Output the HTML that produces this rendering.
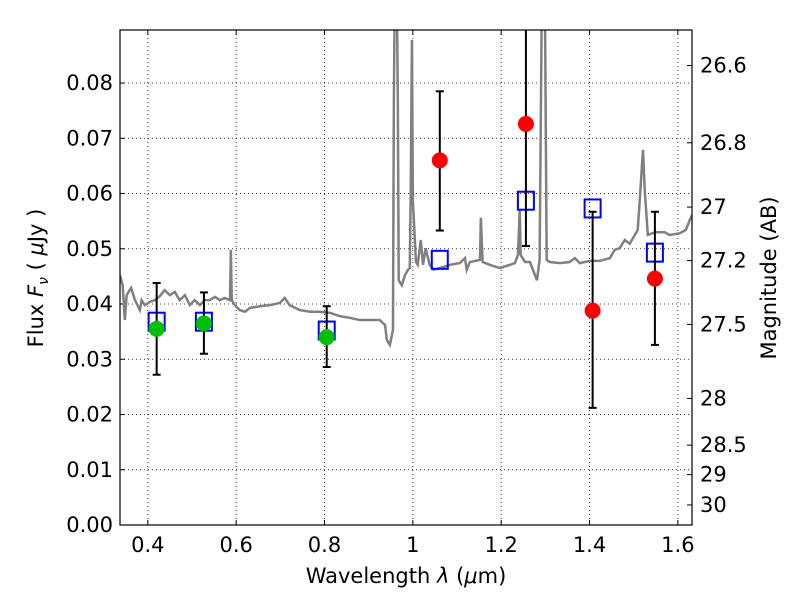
<!DOCTYPE html>
<html><head><meta charset="utf-8"><style>
body{margin:0;background:#fff;}
svg text{font-family:"DejaVu Sans","Liberation Sans",sans-serif;}
</style></head><body>
<svg id="chart" width="800" height="600" xmlns="http://www.w3.org/2000/svg"></svg>
<script>
const specWave=[0.337,0.343,0.348,0.352,0.362,0.371,0.382,0.386,0.393,0.405,0.416,0.427,0.438,0.450,0.461,0.472,0.484,0.495,0.506,0.518,0.529,0.540,0.552,0.563,0.574,0.586,0.588,0.590,0.597,0.608,0.620,0.631,0.654,0.676,0.699,0.710,0.721,0.744,0.767,0.789,0.812,0.835,0.857,0.880,0.903,0.925,0.937,0.941,0.948,0.955,0.957,0.959,0.964,0.966,0.968,0.975,0.982,0.989,0.993,0.995,0.998,1.000,1.007,1.011,1.018,1.023,1.029,1.038,1.047,1.061,1.084,1.106,1.118,1.122,1.129,1.152,1.154,1.158,1.174,1.197,1.220,1.231,1.238,1.242,1.244,1.254,1.265,1.281,1.287,1.292,1.299,1.303,1.310,1.333,1.355,1.367,1.378,1.401,1.423,1.446,1.457,1.468,1.480,1.491,1.509,1.513,1.521,1.525,1.532,1.548,1.570,1.581,1.604,1.618,1.627,1.632];
const specFlux=[0.0452,0.0434,0.0371,0.0416,0.0429,0.0407,0.0389,0.0407,0.0398,0.0404,0.0407,0.0414,0.0425,0.0416,0.0422,0.0407,0.0416,0.0398,0.0407,0.0398,0.0407,0.0407,0.0413,0.0407,0.0411,0.0407,0.0498,0.0407,0.0398,0.0389,0.0386,0.0393,0.0396,0.0398,0.0402,0.0411,0.0398,0.0389,0.0386,0.0386,0.0384,0.0378,0.0375,0.0371,0.0371,0.0371,0.0362,0.0335,0.0326,0.0353,0.0769,0.095,0.095,0.0769,0.0443,0.0434,0.0452,0.0462,0.0465,0.0588,0.0878,0.0588,0.0476,0.0471,0.0516,0.0471,0.0501,0.0471,0.0462,0.0465,0.0471,0.0474,0.0483,0.0462,0.0476,0.0480,0.0556,0.0476,0.0471,0.0465,0.0471,0.0474,0.0489,0.0570,0.0489,0.0476,0.0476,0.0443,0.0480,0.095,0.095,0.0480,0.0476,0.0474,0.0476,0.0483,0.0474,0.0478,0.0478,0.0483,0.0498,0.0501,0.0516,0.0509,0.0534,0.0579,0.0679,0.0606,0.0525,0.0530,0.0530,0.0525,0.0528,0.0534,0.0552,0.0561];
const greenWave=[0.420,0.527,0.805];
const greenFlux=[0.0355,0.0365,0.0340];
const greenHi=[0.0438,0.0421,0.0396];
const greenLo=[0.0272,0.0310,0.0286];
const redWave=[1.061,1.256,1.407,1.548];
const redFlux=[0.0660,0.0726,0.0388,0.0446];
const redHi=[0.0785,0.095,0.0567,0.0567];
const redLo=[0.0533,0.0505,0.0212,0.0326];
const modelWave=[0.420,0.527,0.805,1.061,1.256,1.407,1.548];
const modelFlux=[0.0368,0.0368,0.0352,0.0480,0.0587,0.0573,0.0493];
const xTicks=[0.4,0.6,0.8,1.0,1.2,1.4,1.6];
const xTickLabels=["0.4","0.6","0.8","1","1.2","1.4","1.6"];
const yTicks=[0,0.01,0.02,0.03,0.04,0.05,0.06,0.07,0.08];
const yTickLabels=["0.00","0.01","0.02","0.03","0.04","0.05","0.06","0.07","0.08"];
const magTicks=[26.6,26.8,27,27.2,27.5,28,28.5,29,30];
const magLabels=["26.6","26.8","27","27.2","27.5","28","28.5","29","30"];

const L=120,R=692,T=30,B=525,XMIN=0.337,XMAX=1.632,YMIN=0,YMAX=0.0896;
const sx=v=>L+(v-XMIN)/(XMAX-XMIN)*(R-L);
const sy=v=>B-(v-YMIN)/(YMAX-YMIN)*(B-T);
const svg=document.getElementById('chart');
const NS='http://www.w3.org/2000/svg';
function mk(tag,attrs,parent){const e=document.createElementNS(NS,tag);for(const k in attrs)e.setAttribute(k,attrs[k]);(parent||svg).appendChild(e);return e;}
const defs=mk('defs',{});const cp=mk('clipPath',{id:'c'},defs);mk('rect',{x:L,y:T,width:R-L,height:B-T},cp);

xTicks.forEach((v,i)=>{
 const g=mk('line',{x1:sx(v),x2:sx(v),y1:T,y2:B,stroke:'#000','stroke-dasharray':'1,3','stroke-width':0.8});
 
 
 mk('line',{x1:sx(v),x2:sx(v),y1:B,y2:B-5,stroke:'#000'});
 mk('line',{x1:sx(v),x2:sx(v),y1:T,y2:T+5,stroke:'#000'});
 const t=mk('text',{x:sx(v),y:B+27,'text-anchor':'middle','font-size':21});t.textContent=xTickLabels[i];
 
 
});
yTicks.forEach((v,i)=>{
 if(v>0){const g=mk('line',{x1:L,x2:R,y1:sy(v),y2:sy(v),stroke:'#000','stroke-dasharray':'1,3','stroke-width':0.8});
 
 }
 mk('line',{x1:L,x2:L+5,y1:sy(v),y2:sy(v),stroke:'#000'});
 const t=mk('text',{x:L-7,y:sy(v)+7,'text-anchor':'end','font-size':21});t.textContent=yTickLabels[i];
 
 
});
magTicks.forEach((m,i)=>{
 const f=Math.pow(10,(23.9-m)/2.5);const y=sy(f);
 mk('line',{x1:R,x2:R-5,y1:y,y2:y,stroke:'#000'});
 const t=mk('text',{x:R+8,y:y+7,'font-size':21});t.textContent=magLabels[i];
 
 
});

const pl=mk('polyline',{points:specWave.map((w,i)=>sx(w)+','+sy(specFlux[i])).join(' '),fill:'none',stroke:'#808080','stroke-width':2.5,'clip-path':'url(#c)'});



function errbar(w,lo,hi){
 const g=mk('g',{'clip-path':'url(#c)'});
 
 
 mk('line',{x1:sx(w),x2:sx(w),y1:sy(lo),y2:sy(hi),stroke:'#000','stroke-width':2},g);
 mk('line',{x1:sx(w)-4,x2:sx(w)+4,y1:sy(lo),y2:sy(lo),stroke:'#000','stroke-width':2},g);
 mk('line',{x1:sx(w)-4,x2:sx(w)+4,y1:sy(hi),y2:sy(hi),stroke:'#000','stroke-width':2},g);
}
modelWave.forEach((w,i)=>{
 const r=mk('rect',{x:sx(w)-8,y:sy(modelFlux[i])-9,width:16,height:18,fill:'none',stroke:'#0000ff','stroke-width':2});
 
 
});
greenWave.forEach((w,i)=>{
 errbar(w,greenLo[i],greenHi[i]);
 const c=mk('circle',{cx:sx(w),cy:sy(greenFlux[i]),r:8,fill:'#00bf00'});
 
 
});
redWave.forEach((w,i)=>{
 errbar(w,redLo[i],redHi[i]);
 const c=mk('circle',{cx:sx(w),cy:sy(redFlux[i]),r:8,fill:'#ff0000'});
 
 
});
const fr=mk('rect',{x:L,y:T,width:R-L,height:B-T,fill:'none',stroke:'#000','stroke-width':1.2});



const xt=mk('text',{x:(L+R)/2,y:583,'text-anchor':'middle','font-size':21});
xt.innerHTML='Wavelength  <tspan font-style="italic">λ</tspan> (<tspan font-style="italic">μ</tspan>m)';


const yt=mk('text',{x:0,y:0,'text-anchor':'middle','font-size':21,transform:'translate(43,278) rotate(-90)'});
yt.innerHTML='Flux  <tspan font-style="italic">F</tspan><tspan font-size="14" dy="5" font-style="italic">ν</tspan><tspan dy="-5">  ( </tspan><tspan font-style="italic">μ</tspan>Jy )';


const rt=mk('text',{x:0,y:0,'text-anchor':'middle','font-size':21,transform:'translate(776,278) rotate(-90)'});
rt.textContent='Magnitude (AB)';


</script>
</body></html>
